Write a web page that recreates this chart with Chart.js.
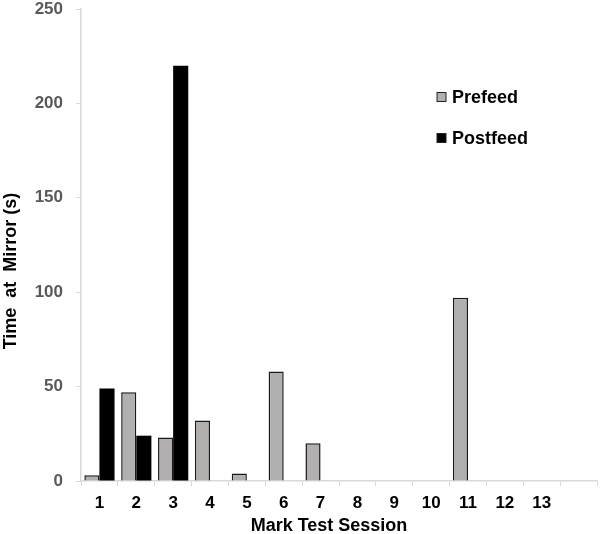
<!DOCTYPE html>
<html>
<head>
<meta charset="utf-8">
<script src="https://cdn.jsdelivr.net/npm/chart.js@4"></script>
<style>
  html, body { margin: 0; padding: 0; background: #fff; }
  #wrap { width: 600px; height: 534px; }
</style>
</head>
<body>
<div id="wrap"><canvas id="mirror"></canvas></div>
<script>
const sessions = ['1', '2', '3', '4', '5', '6', '7', '8', '9', '10', '11', '12', '13', ''];
const prefeed = [3, 47, 23, 32, 4, 58, 20, 0, 0, 0, 97, 0, 0, null];
const postfeed = [49, 24, 220, 0, 0, 0, 0, 0, 0, 0, 0, 0, 0, null];
const xTitle = 'Mark Test Session';
const yTitle = 'Time  at  Mirror (s)';

const font = 'Liberation Sans, Arial, sans-serif';
const axisGrey = '#d9d9d9';

// legend + axis titles drawn by hand so they sit where the original has them
const extras = {
  id: 'extras',
  afterDraw(chart) {
    const ctx = chart.ctx;
    const area = chart.chartArea;
    ctx.save();
    ctx.font = 'bold 18px ' + font;
    ctx.textBaseline = 'middle';

    const x = area.left + 356;
    let y = area.top + 88;
    chart.data.datasets.forEach(ds => {
      ctx.fillStyle = ds.backgroundColor;
      ctx.fillRect(x, y - 4.5, 9, 9);
      ctx.strokeStyle = '#222';
      ctx.lineWidth = 1;
      ctx.strokeRect(x, y - 4.5, 9, 9);
      ctx.fillStyle = '#000';
      ctx.textAlign = 'left';
      ctx.fillText(ds.label, x + 15, y + 1);
      y += 41;
    });

    ctx.fillStyle = '#000';
    ctx.textAlign = 'center';
    ctx.fillText(xTitle, area.left + 248, area.bottom + 45);

    ctx.translate(11, area.top + 262);
    ctx.rotate(-Math.PI / 2);
    ctx.fillText(yTitle, 0, 0);
    ctx.restore();
  }
};

new Chart(document.getElementById('mirror'), {
  type: 'bar',
  data: {
    labels: sessions,
    datasets: [
      {
        label: 'Prefeed',
        data: prefeed,
        backgroundColor: '#b2afaf',
        borderColor: '#1a1a1a',
        borderWidth: 1.5,
        categoryPercentage: 0.82,
        barPercentage: 1.0
      },
      {
        label: 'Postfeed',
        data: postfeed,
        backgroundColor: '#000000',
        borderColor: '#000000',
        borderWidth: 0,
        categoryPercentage: 0.82,
        barPercentage: 1.0
      }
    ]
  },
  options: {
    responsive: true,
    maintainAspectRatio: false,
    animation: false,
    layout: { padding: { top: 9, right: 3, left: 0, bottom: 0 } },
    plugins: {
      legend: { display: false },
      tooltip: { enabled: false }
    },
    scales: {
      x: {
        grid: { display: true, drawOnChartArea: false, color: axisGrey, tickLength: 5, offset: true },
        border: { color: axisGrey, width: 1.5 },
        ticks: { color: '#000', font: { family: font, size: 17, weight: 'bold' }, padding: 7, maxRotation: 0, autoSkip: false },
        afterFit(scale) { scale.height = 53; }
      },
      y: {
        min: 0,
        max: 250,
        grid: { display: true, drawOnChartArea: false, color: axisGrey, tickLength: 5 },
        border: { color: axisGrey, width: 1.5 },
        ticks: { stepSize: 50, color: '#595959', font: { family: font, size: 17, weight: 'bold', lineHeight: 1 }, padding: 13 },
        afterFit(scale) {
          scale.width = 81;
          scale.paddingTop = 0;
          scale.paddingBottom = 0;
        }
      }
    }
  },
  plugins: [extras]
});
</script>
</body>
</html>
